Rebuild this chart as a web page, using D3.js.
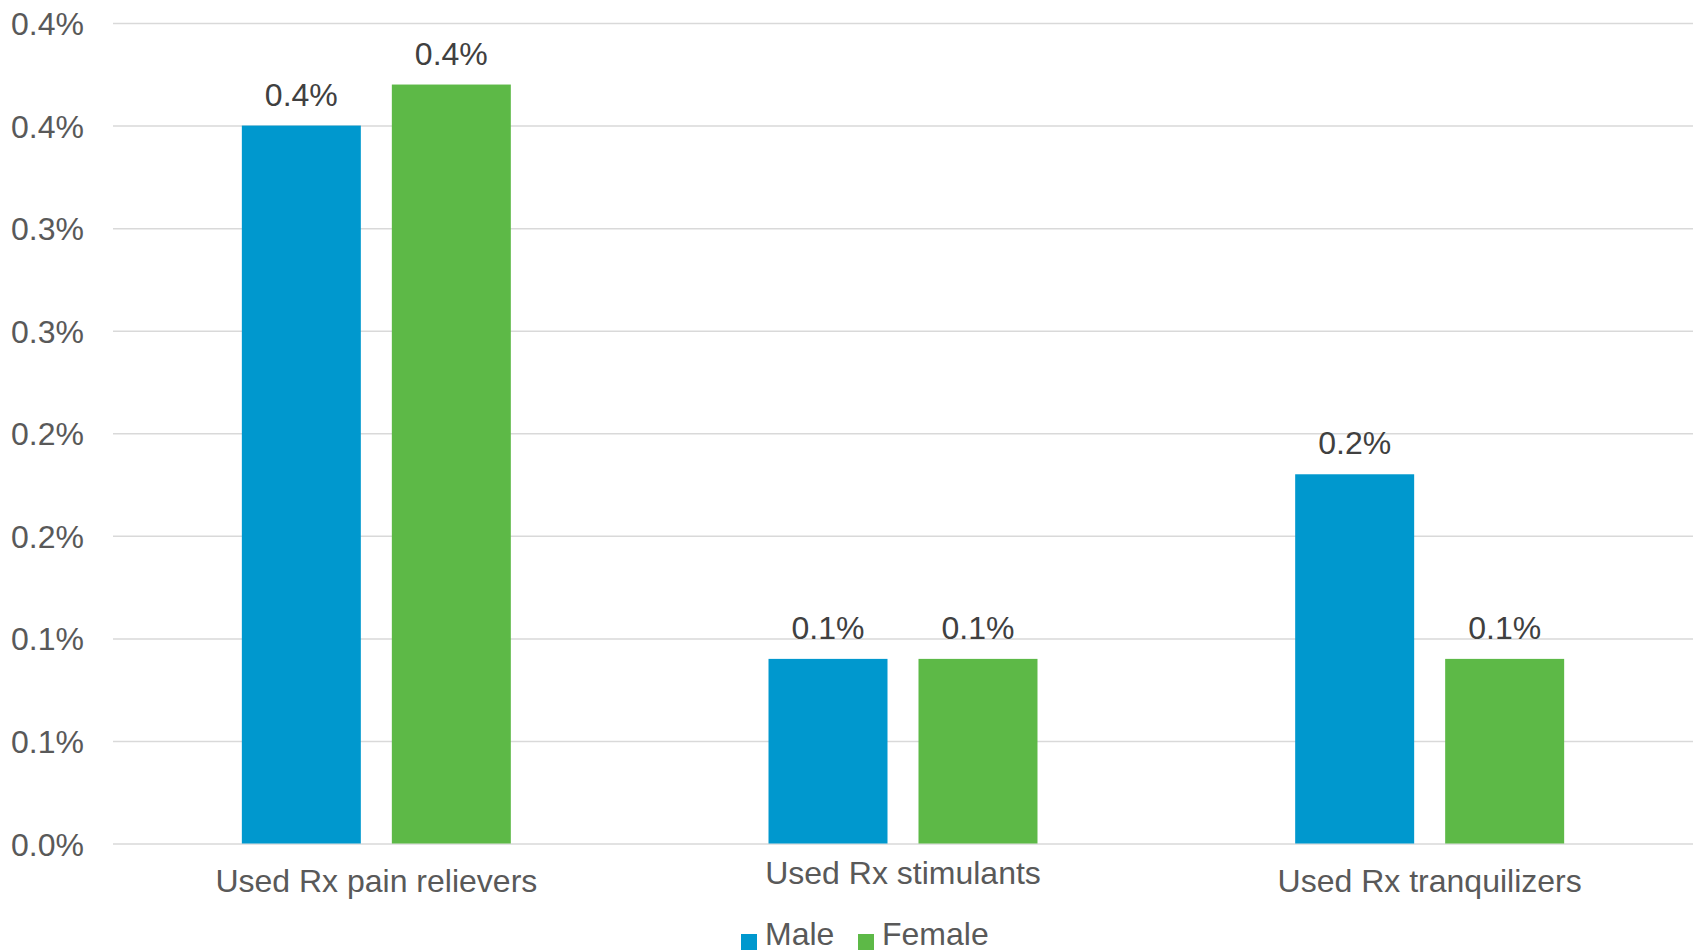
<!DOCTYPE html>
<html>
<head>
<meta charset="utf-8">
<script src="https://cdn.jsdelivr.net/npm/d3@7"></script>
<style>
  html, body { margin: 0; padding: 0; background: #fff; }
  svg { display: block; font-family: "Liberation Sans", Arial, sans-serif; }
</style>
</head>
<body>
<svg id="chart" width="1698" height="950"></svg>
<script>
const categories = ["Used Rx pain relievers", "Used Rx stimulants", "Used Rx tranquilizers"];
const series = ["Male", "Female"];
const maleValues = [0.0035, 0.0009, 0.0018];
const femaleValues = [0.0037, 0.0009, 0.0009];
const maleLabels = ["0.4%", "0.1%", "0.2%"];
const femaleLabels = ["0.4%", "0.1%", "0.1%"];
const tickValues = [0, 0.0005, 0.001, 0.0015, 0.002, 0.0025, 0.003, 0.0035, 0.004];
const tickLabels = ["0.0%", "0.1%", "0.1%", "0.2%", "0.2%", "0.3%", "0.3%", "0.4%", "0.4%"];
const colors = ["#0098CE", "#5DB947"];

(function () {
const svg = d3.select("#chart");
const plotLeft = 113, plotRight = 1693, plotTop = 23, plotBottom = 843.5;
const fs = 32;

const y = d3.scaleLinear().domain([0, 0.004]).range([plotBottom, plotTop]);
const x0 = d3.scaleBand().domain(categories).range([plotLeft, plotRight]).padding(0);
const x1 = d3.scaleBand().domain(series).range([0, x0.bandwidth()])
  .paddingInner(0.2067).paddingOuter(0.859);
const color = d3.scaleOrdinal().domain(series).range(colors);

const rows = categories.map((c, i) => ({
  cat: c,
  vals: [
    { s: "Male", v: maleValues[i], label: maleLabels[i] },
    { s: "Female", v: femaleValues[i], label: femaleLabels[i] }
  ]
}));

// Y axis with gridlines
const yAxis = d3.axisLeft(y)
  .tickValues(tickValues)
  .tickFormat((d, i) => tickLabels[i])
  .tickSize(-(plotRight - plotLeft))
  .tickPadding(29);
const gy = svg.append("g").attr("transform", `translate(${plotLeft},0)`).call(yAxis);
gy.select(".domain").remove();
gy.selectAll(".tick line").attr("stroke", "#D9D9D9").attr("stroke-width", 1.5);
gy.selectAll(".tick text")
  .attr("fill", "#595959")
  .attr("font-size", fs)
  .attr("font-family", "Liberation Sans, Arial, sans-serif")
  .attr("dy", "0.36em");

// Bars
const groups = svg.append("g").selectAll("g")
  .data(rows).join("g")
  .attr("transform", d => `translate(${x0(d.cat)},0)`);

groups.selectAll("rect")
  .data(d => d.vals).join("rect")
  .attr("x", d => x1(d.s))
  .attr("width", x1.bandwidth())
  .attr("y", d => y(d.v))
  .attr("height", d => y(0) - y(d.v))
  .attr("fill", d => color(d.s));

groups.selectAll("text.lbl")
  .data(d => d.vals).join("text")
  .attr("class", "lbl")
  .attr("x", d => x1(d.s) + x1.bandwidth() / 2)
  .attr("y", d => y(d.v) - 20)
  .attr("text-anchor", "middle")
  .attr("font-size", fs)
  .attr("fill", "#404040")
  .text(d => d.label);

// X axis (category labels)
const xAxis = d3.axisBottom(x0).tickSize(0).tickPadding(0);
const gx = svg.append("g").attr("transform", `translate(0,${plotBottom})`).call(xAxis);
gx.select(".domain").remove();
gx.selectAll(".tick text")
  .attr("fill", "#595959")
  .attr("font-size", fs)
  .attr("font-family", "Liberation Sans, Arial, sans-serif")
  .attr("y", (d, i) => (i % 2 === 1 ? 40.5 : 48.5))
  .attr("dy", 0);

// Legend
const legendX = [741, 858];
const lg = svg.append("g");
series.forEach((s, i) => {
  const lx = legendX[i];
  lg.append("rect").attr("x", lx).attr("y", 934).attr("width", 16).attr("height", 16)
    .attr("fill", color(s));
  lg.append("text").attr("x", lx + 24).attr("y", 944.5)
    .attr("font-size", fs).attr("fill", "#595959").text(s);
});
})();
</script>
</body>
</html>
